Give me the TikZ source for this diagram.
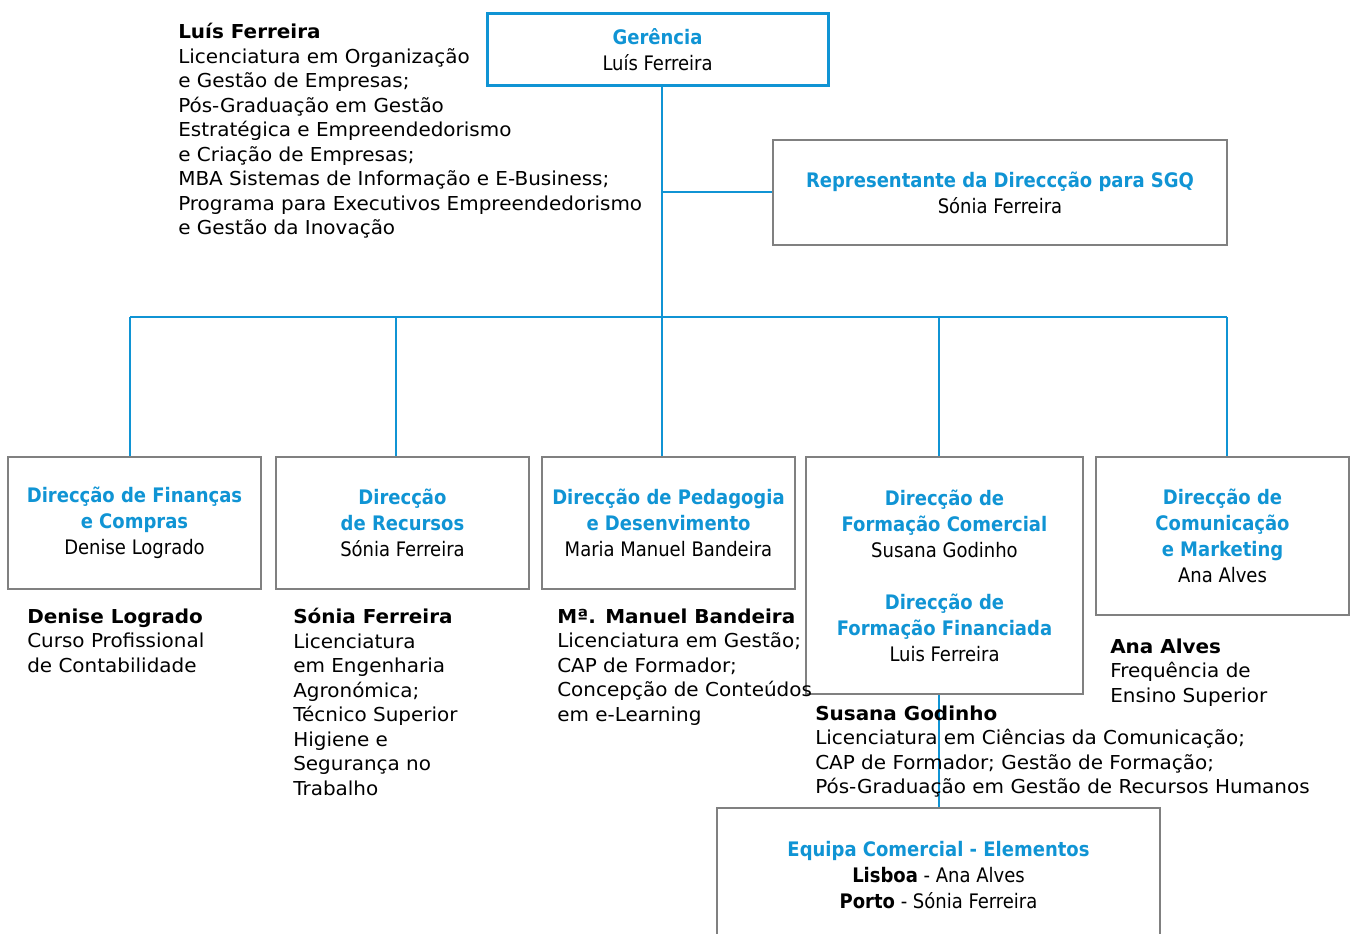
\documentclass[tikz,border=0pt]{standalone}
\usepackage{fontspec}
\setmainfont{DejaVu Sans}
\newfontfamily\descfont{DejaVu Sans}[FakeStretch=1.04]
\newfontfamily\boxfont{DejaVu Sans Condensed}
\usetikzlibrary{positioning}
\definecolor{orgblue}{RGB}{16,148,212}
\definecolor{boxgray}{RGB}{128,128,128}
\newcommand{\ttl}[1]{{\bfseries\color{orgblue}#1}}
\tikzset{
x=0.75pt, y=-0.75pt, % one unit is one pixel of the chart
dept/.style={draw=boxgray, line width=1.5pt, align=center, inner sep=0pt, font=\boxfont\fontsize{15}{19.5}\selectfont}, % every box of a direction
head/.style={dept, draw=orgblue, line width=2.25pt}, % the top box
boxsize/.style 2 args={minimum width=#1*0.75pt, minimum height=#2*0.75pt},
cv/.style={align=left, anchor=north west, inner sep=0pt, font=\descfont\fontsize{14.4}{18.4}\selectfont}, % the text beside a box
link/.style={draw=orgblue, line width=1.5pt},
}
\begin{document}
\begin{tikzpicture}
\useasboundingbox (0,0) rectangle (1352,934);
% boxes
\node[head, boxsize={341}{72}] (ger) at (657.5,50) {\ttl{Gerência}\\Luís Ferreira};
\node[dept, boxsize={454}{105}] (rep) at (1000,192.5) {\ttl{Representante da Direccção para SGQ}\\Sónia Ferreira};
\node[dept, boxsize={253}{132}] (fin) at (134.5,523) {\ttl{Direcção de Finanças}\\\ttl{e Compras}\\Denise Logrado};
\node[dept, boxsize={253}{132}] (rec) at (402.5,523) {\ttl{Direcção}\\\ttl{de Recursos}\\Sónia Ferreira};
\node[dept, boxsize={253}{132}] (ped) at (668.5,523) {\ttl{Direcção de Pedagogia}\\\ttl{e Desenvimento}\\Maria Manuel Bandeira};
\node[dept, boxsize={277}{237}] (form) at (944.5,575.5) {\ttl{Direcção de}\\\ttl{Formação Comercial}\\Susana Godinho\\[19.5pt]\ttl{Direcção de}\\\ttl{Formação Financiada}\\Luis Ferreira};
\node[dept, boxsize={253}{158}] (com) at (1222.5,536) {\ttl{Direcção de}\\\ttl{Comunicação}\\\ttl{e Marketing}\\Ana Alves};
\node[dept, boxsize={443}{134}] (equipa) at (938.5,875) {\ttl{Equipa Comercial - Elementos}\\\textbf{Lisboa} - Ana Alves\\\textbf{Porto} - Sónia Ferreira};

% people
\node[cv] (cvger) at (178,23) {\textbf{Luís Ferreira}\\Licenciatura em Organização\\e Gestão de Empresas;\\Pós-Graduação em Gestão\\Estratégica e Empreendedorismo\\e Criação de Empresas;\\MBA Sistemas de Informação e E-Business;\\Programa para Executivos Empreendedorismo\\e Gestão da Inovação};
\node[cv] (cvfin) at (27,608.5) {\textbf{Denise Logrado}\\Curso Profissional\\de Contabilidade};
\node[cv] (cvrec) at (293,608) {\textbf{Sónia Ferreira}\\Licenciatura\\em Engenharia\\Agronómica;\\Técnico Superior\\Higiene e\\Segurança no\\Trabalho};
\node[cv] (cvped) at (557,608.5) {\textbf{Mª. Manuel Bandeira}\\Licenciatura em Gestão;\\CAP de Formador;\\Concepção de Conteúdos\\em e-Learning};
\node[cv] (cvcom) at (1110,638.5) {\textbf{Ana Alves}\\Frequência de\\Ensino Superior};

% lines
\coordinate (trunk) at (662,317);
\coordinate (d1) at (130,317);
\coordinate (d2) at (396,317);
\coordinate (d4) at (939,317);
\coordinate (d5) at (1227,317);
\draw[link] (trunk |- ger.south) -- (trunk) -- (trunk |- ped.north);
\draw[link] (trunk |- rep.west) -- (rep.west);
\draw[link] (d1) -- (d5);
\draw[link] (d1) -- (d1 |- fin.north);
\draw[link] (d2) -- (d2 |- rec.north);
\draw[link] (d4) -- (d4 |- form.north);
\draw[link] (d5) -- (d5 |- com.north);
\draw[link] (d4 |- form.south) -- (d4 |- equipa.north);
\node[cv] (cvform) at (815,705.5) {\textbf{Susana Godinho}\\Licenciatura em Ciências da Comunicação;\\CAP de Formador; Gestão de Formação;\\Pós-Graduação em Gestão de Recursos Humanos};
\end{tikzpicture}
\end{document}
